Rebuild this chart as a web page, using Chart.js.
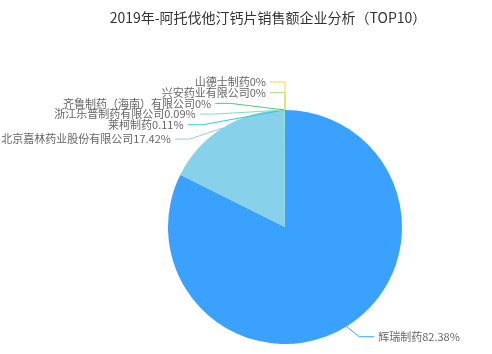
<!DOCTYPE html>
<html lang="zh">
<head>
    <meta charset="UTF-8">
    <title>阿托伐他汀钙片销售额企业分析</title>
    <script src="https://cdn.jsdelivr.net/npm/chart.js"></script>
    <style>
        body {
            margin: 0;
            background: #fff;
        }
        .grafico {
            width: 492px;
            height: 354px;
        }
    </style>
</head>
<body>
    <div class="grafico">
        <canvas id="pie"></canvas>
    </div>

    <script>
        // datos
        const titulo = '2019年-阿托伐他汀钙片销售额企业分析（TOP10）';
        const empresas = ['辉瑞制药', '北京嘉林药业股份有限公司', '莱柯制药', '浙江乐普制药有限公司',
            '齐鲁制药（海南）有限公司', '兴安药业有限公司', '山德士制药'];
        const porcentajes = [82.38, 17.42, 0.11, 0.09, 0, 0, 0];
        const colores = ['#3AA1FF', '#88D1EA', '#36CBCB', '#82DFBE', '#4ECB73', '#ACDF82', '#FBD437'];

        const fuente = "'Noto Sans CJK SC', sans-serif";

        // etiquetas exteriores con líneas guía (estilo echarts)
        const etiquetasPlugin = {
            id: 'etiquetas',
            afterDraw(chart) {
                const ctx = chart.ctx;
                const arcs = chart.getDatasetMeta(0).data;
                const len1 = 12, len2 = 15, gap = 4, alto = 10.7;

                let items = arcs.map((arc, i) => {
                    const p = arc.getProps(['x', 'y', 'startAngle', 'endAngle', 'outerRadius'], true);
                    const mid = (p.startAngle + p.endAngle) / 2;
                    const c = Math.cos(mid), s = Math.sin(mid);
                    const dir = c < 1e-9 ? -1 : 1;
                    return {
                        i, dir, cx: p.x, cy: p.y, r: p.outerRadius,
                        x0: p.x + c * p.outerRadius, y0: p.y + s * p.outerRadius,
                        x1: p.x + c * (p.outerRadius + len1), y: p.y + s * (p.outerRadius + len1),
                        texto: empresas[i] + porcentajes[i] + '%'
                    };
                });

                [-1, 1].forEach(dir => {
                    const lista = items.filter(it => it.dir === dir);
                    lista.sort((a, b) => (a.y - b.y) || (b.i - a.i));
                    // algoritmo de desplazamiento
                    const shiftUp = (end, delta) => {
                        for (let j = end; j >= 0; j--) {
                            lista[j].y -= delta;
                            if (j > 0 && lista[j].y > lista[j - 1].y + alto) break;
                        }
                    };
                    const shiftDown = (start, end, delta) => {
                        for (let j = start; j < end; j++) {
                            lista[j].y += delta;
                            if (j > start && j + 1 < end && lista[j + 1].y > lista[j].y + alto) {
                                shiftUp(j, delta / 2);
                                return;
                            }
                        }
                        shiftUp(end - 1, delta / 2);
                    };
                    let lastY = 0;
                    for (let k = 0; k < lista.length; k++) {
                        const delta = lista[k].y - lastY;
                        if (delta < 0) shiftDown(k, lista.length, -delta);
                        lastY = lista[k].y + alto;
                    }
                    lista.forEach(it => {
                        const dy = Math.abs(it.y - it.cy);
                        const R = it.r + len1 + len2 + gap - 4;
                        if (dy < it.r + len1) {
                            it.tx = it.cx + dir * Math.sqrt(R * R - dy * dy);
                        } else {
                            it.tx = it.x1 + dir * (len2 + gap);
                        }
                    });
                });

                ctx.save();
                ctx.lineWidth = 1;
                ctx.font = '11px ' + fuente;
                ctx.textBaseline = 'middle';
                items.forEach(it => {
                    const finLinea = it.tx - it.dir * gap;
                    const codo = finLinea - it.dir * len2;
                    ctx.strokeStyle = colores[it.i];
                    ctx.beginPath();
                    ctx.moveTo(it.x0, it.y0);
                    ctx.lineTo(codo, it.y);
                    ctx.lineTo(finLinea, it.y);
                    ctx.stroke();
                    ctx.fillStyle = '#666';
                    ctx.textAlign = it.dir < 0 ? 'right' : 'left';
                    ctx.fillText(it.texto, it.tx, it.y);
                });
                // título
                ctx.font = '14px ' + fuente;
                ctx.fillStyle = '#333';
                ctx.textAlign = 'center';
                ctx.fillText(titulo, 268, 18);
                ctx.restore();
            }
        };

        const ctx = document.getElementById('pie').getContext('2d');
        new Chart(ctx, {
            type: 'pie',
            data: {
                labels: empresas,
                datasets: [{
                    data: porcentajes,
                    backgroundColor: colores,
                    borderWidth: 0,
                    hoverOffset: 0
                }]
            },
            options: {
                responsive: true,
                maintainAspectRatio: false,
                animation: false,
                layout: {
                    padding: { top: 110, left: 168, right: 90, bottom: 10 }
                },
                plugins: {
                    legend: { display: false },
                    title: { display: false },
                    tooltip: { enabled: false }
                }
            },
            plugins: [etiquetasPlugin]
        });
    </script>
</body>
</html>
